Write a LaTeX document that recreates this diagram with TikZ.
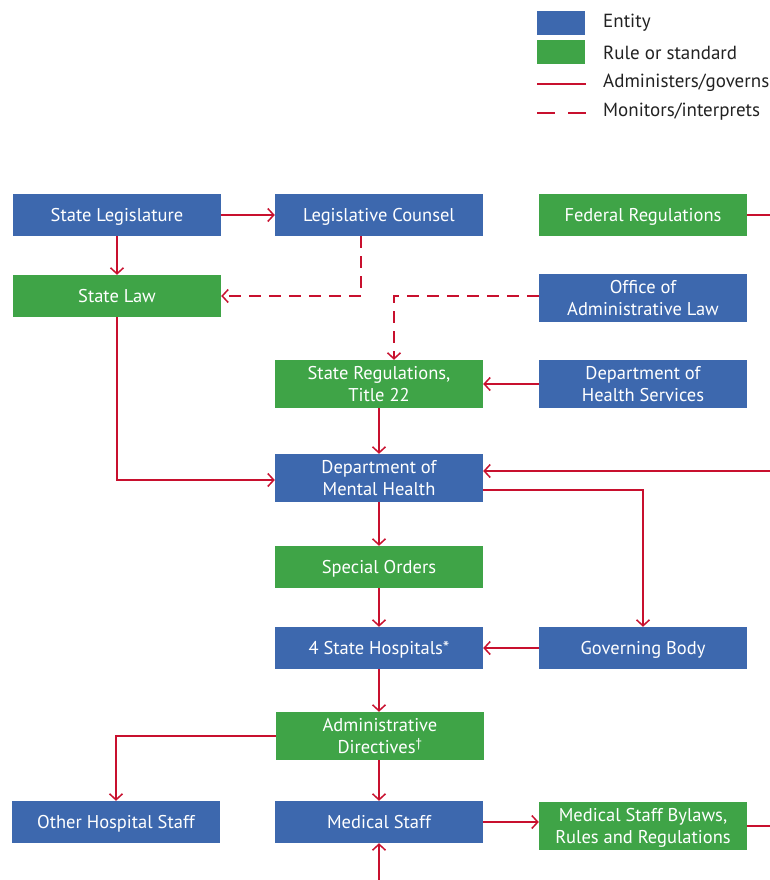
\documentclass[tikz,border=0pt]{standalone}
\usepackage{fontspec}
\setmainfont{PT Sans}
\usetikzlibrary{arrows.meta}
\definecolor{entblue}{HTML}{3D68AE}
\definecolor{rulegreen}{HTML}{3FA447}
\definecolor{linered}{HTML}{C8102E}
\definecolor{legtext}{HTML}{222222}
\begin{document}
\begin{tikzpicture}[x=1pt,y=-1pt,
 box/.style={minimum width=208pt, minimum height=42pt, inner sep=0pt, align=center, text=white, text depth=0pt, font=\fontsize{18.5}{22}\selectfont},
 entity/.style={box, fill=entblue},
 rulebox/.style={box, fill=rulegreen},
 tall/.style={minimum height=48pt},
 govline/.style={draw=linered, line width=1.3pt},
 gov/.style={govline, -{Straight Barb[length=6pt,width=13pt,line width=1.5pt]}},
 mon/.style={gov, dash pattern=on 12pt off 8pt},
 legtxt/.style={anchor=west, inner sep=0pt, text=legtext, font=\fontsize{19}{22}\selectfont},
 legsw/.style={minimum width=48pt, minimum height=24pt, inner sep=0pt},
 ]
\useasboundingbox (0,0) rectangle (770,880);

% legend
\node[legsw, fill=entblue] (legE) at (561,23) {};
\node[legsw, fill=rulegreen] (legR) at (561,52) {};
\coordinate (l1a) at (537,84); \coordinate (l1b) at (586,84);
\coordinate (l2a) at (537,113); \coordinate (l2b) at (586,113);
\draw[govline] (l1a) -- (l1b);
\draw[govline, dash pattern=on 18pt off 13pt] (l2a) -- (l2b);
\node[legtxt] (tE) at (603,23) {Entity};
\node[legtxt] (tR) at (603,53) {Rule or standard};
\node[legtxt] (tA) at (603,83) {Administers/governs};
\node[legtxt] (tM) at (603,112) {Monitors/interprets};

% nodes
\node[entity] (legis) at (117,215) {State Legislature};
\node[entity] (counsel) at (379,215) {Legislative Counsel};
\node[rulebox] (federal) at (643,215) {Federal Regulations};
\node[rulebox] (law) at (117,296) {State Law};
\node[entity, tall] (oal) at (643,298) {Office of\\Administrative Law};
\node[rulebox, tall] (stregs) at (379,384) {State Regulations,\\Title 22};
\node[entity, tall] (dhs) at (643,384) {Department of\\Health Services};
\node[entity, tall] (dmh) at (379,478) {Department of\\Mental Health};
\node[rulebox] (special) at (379,567) {Special Orders};
\node[entity] (hosp) at (379,648) {4 State Hospitals*};
\node[entity] (govb) at (643,648) {Governing Body};
\node[rulebox, tall] (admin) at (380,736) {Administrative\\Directives\textsuperscript{\dag}};
\node[entity] (other) at (116,822) {Other Hospital Staff};
\node[entity] (med) at (379,822) {Medical Staff};
\node[rulebox, tall] (bylaws) at (643,826) {Medical Staff Bylaws,\\Rules and Regulations};

% edge coordinates
\coordinate (eFed) at (770,215);
\coordinate (eDmh) at (770,471);
\coordinate (eByl) at (770,826);
\coordinate (eMed) at (379,880);

% connectors
\draw[gov] (legis) -- (counsel);
\draw[gov] (legis) -- (law);
\draw[govline] (federal.east) -- (eFed);
\draw[mon] ([xshift=-18pt]counsel.south) |- (law.east);
\draw[mon] ([yshift=2pt]oal.west) -| ([xshift=15pt]stregs.north);
\draw[gov] (dhs) -- (stregs);
\draw[gov] (stregs) -- (dmh);
\draw[gov] (law.south) |- ([yshift=-2pt]dmh.west);
\draw[gov] (eDmh) -- (eDmh -| dmh.east);
\draw[gov] ([yshift=-12pt]dmh.east) -| (govb.north);
\draw[gov] (dmh) -- (special);
\draw[gov] (special) -- (hosp);
\draw[gov] (govb) -- (hosp);
\draw[gov] (hosp.south) -- (hosp.south |- admin.north);
\draw[gov] (admin.west) -| (other.north);
\draw[gov] (admin.south -| med.north) -- (med.north);
\draw[gov] (med.east) -- (med.east -| bylaws.west);
\draw[govline] (bylaws.east) -- (eByl);
\draw[gov] (eMed) -- (med.south);
\end{tikzpicture}
\end{document}
